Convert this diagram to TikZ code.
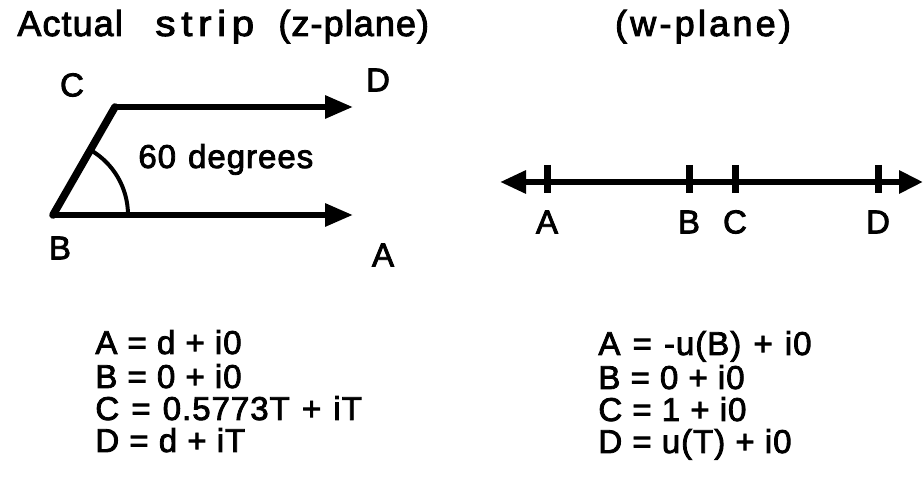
\documentclass[tikz,border=0pt]{standalone}
\usepackage{fontspec}
\newfontfamily\figfont{Liberation Sans}[LetterSpace=3,FakeBold=2.5]
\usepackage{tikz}
\usetikzlibrary{
  arrows.meta, % Triangle 箭头
  calc         % 坐标计算
}
\tikzset{
  strip line/.style={
    -{Triangle[length=14pt,width=11pt]},
    line width=3pt
  },
  slant line/.style={
    line width=3.8pt,
    line cap=round
  },
  angle arc/.style={
    line width=2pt
  },
  axis line/.style={
    {Triangle[length=13pt,width=11pt]}-{Triangle[length=12pt,width=11pt]},
    line width=3pt
  },
  tick mark/.style={
    line width=3.5pt
  },
  lbl/.style={
    inner sep=0pt,
    font=\figfont\fontsize{16.5}{19}\selectfont
  },
  eq/.style={
    lbl,
    anchor=base west
  },
  ttl/.style={
    eq,
    font=\figfont\fontsize{18}{21}\selectfont
  }
}

\begin{document}
\begin{tikzpicture}[x=0.5pt, y=0.5pt] % 坐标按原图像素给出，左下角为原点

  \useasboundingbox (0,0) rectangle (924,491); % 固定画布大小

  % 标题
  \node[ttl] (ztitle) at (17,455) {\makebox[69pt][l]{Actual}\makebox[61.5pt][l]{\scalebox{1.12}[1]{\addfontfeature{LetterSpace=14}strip}}(z-plane)}; % 左侧标题
  \node[ttl, anchor=base] (wtitle) at (703,455) {\addfontfeature{LetterSpace=9}(w-plane)}; % 右侧标题

  % z 平面的条带
  \coordinate (B) at (53,276); % 顶点 B
  \coordinate (C) at (115,384); % 顶点 C，与 B 成 60 度
  \coordinate (Dend) at (353,384); % 上方射线终点
  \coordinate (Aend) at (353,276); % 下方射线终点

  \draw[strip line] (C) -- (Dend); % 上边 CD
  \draw[strip line] (B) -- (Aend); % 下边 BA
  \draw[slant line] (B) -- (C); % 斜边 BC
  \draw[angle arc] ($(B)+(75,0)$) arc[start angle=0, end angle=60, radius=75]; % 60 度角弧

  \node[eq] (angtext) at (138,323) {60\hspace{6pt}degrees}; % 角度说明
  \node[lbl] (zC) at (72,406) {C};
  \node[lbl] (zD) at (378,411) {D};
  \node[lbl] (zB) at (60,243) {B};
  \node[lbl] (zA) at (383,236) {A};

  % w 平面的实轴
  \coordinate (wleft) at (500,309); % 左端箭头
  \coordinate (wright) at (923,309); % 右端箭头
  \draw[axis line] (wleft) -- (wright); % 实轴

  \foreach \name/\x in {A/547, B/689, C/735, D/878}{
    \coordinate (w\name) at (\x,309); % 各点在轴上的位置
    \draw[tick mark] ($(w\name)+(0,17)$) -- ($(w\name)+(0,-11)$); % 刻度
    \node[lbl] (wl\name) at (\x,269) {\name}; % 刻度下的字母
  }

  % 左侧坐标式
  \node[eq] (zeqA) at (95,137) {A = d + i0};
  \node[eq] (zeqB) at (95,103) {B = 0 + i0};
  \node[eq] (zeqC) at (95,71) {C \hspace{1pt}= \hspace{1pt}0.5773T \hspace{1pt}+ \hspace{1pt}iT};
  \node[eq] (zeqD) at (95,39) {D = d + iT};

  % 右侧坐标式
  \node[eq] (weqA) at (598,136) {A \hspace{1pt}= \hspace{1pt}-u(B) \hspace{1pt}+ \hspace{1pt}i0};
  \node[eq] (weqB) at (598,102) {B = 0 + i0};
  \node[eq] (weqC) at (598,70) {C = 1 + i0};
  \node[eq] (weqD) at (598,38) {D = u(T) + i0};

\end{tikzpicture}
\end{document}
